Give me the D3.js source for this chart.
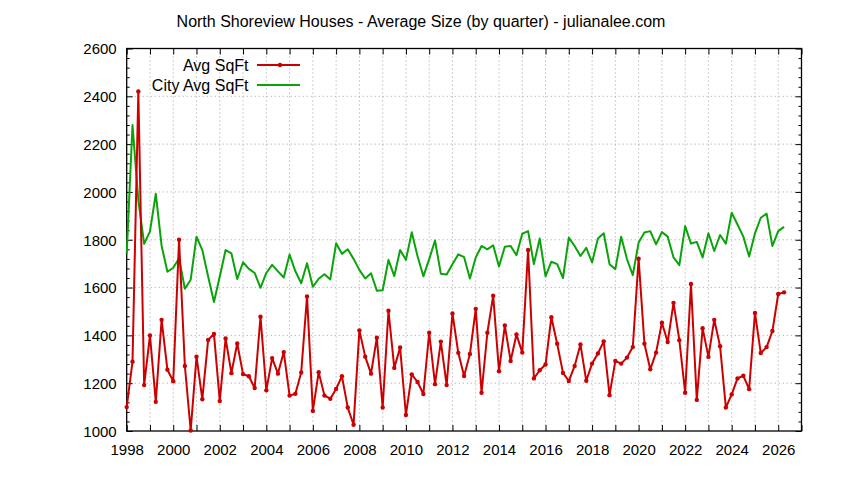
<!DOCTYPE html>
<html>
<head>
<meta charset="utf-8">
<script src="https://cdn.jsdelivr.net/npm/d3@7"></script>
<style>
  body { margin: 0; background: #fff; }
  svg { display: block; }
  text { font-family: "Liberation Sans", Arial, sans-serif; fill: #000; }
</style>
</head>
<body>
<svg id="chart" width="844" height="480"></svg>
<script>
// quarterly averages, first value is Q1 1998
var startYear = 1998;

var avgSqFt = [
    1100, 1290, 2420, 1192, 1400, 1122, 1465, 1256, 1208, 1800,
    1272, 1002, 1311, 1133, 1381, 1406, 1125, 1387, 1242, 1366,
    1238, 1229, 1180, 1478, 1170, 1305, 1240, 1330, 1148, 1156,
    1245, 1563, 1084, 1246, 1148, 1135, 1176, 1229, 1098, 1026,
    1421, 1311, 1240, 1390, 1098, 1503, 1264, 1349, 1067, 1237,
    1205, 1155, 1411, 1196, 1374, 1192, 1492, 1327, 1230, 1322,
    1511, 1160, 1411, 1566, 1250, 1441, 1293, 1404, 1328, 1757,
    1220, 1254, 1278, 1476, 1365, 1243, 1209, 1272, 1362, 1210,
    1282, 1324, 1375, 1150, 1293, 1282, 1307, 1351, 1721, 1365,
    1258, 1328, 1453, 1372, 1536, 1380, 1160, 1615, 1130, 1430,
    1310, 1465, 1355, 1098, 1153, 1220, 1231, 1175, 1494, 1326,
    1351, 1418, 1573, 1580
];

var cityAvgSqFt = [
    1740, 2280, 1965, 1783, 1835, 1992, 1775, 1666, 1683, 1722,
    1595, 1633, 1813, 1757, 1646, 1540, 1646, 1757, 1743, 1636,
    1706, 1678, 1661, 1599, 1661, 1695, 1668, 1642, 1738, 1668,
    1618, 1702, 1603, 1637, 1656, 1634, 1785, 1741, 1760, 1720,
    1674, 1638, 1660, 1587, 1589, 1716, 1648, 1757, 1716, 1831,
    1731, 1647, 1719, 1797, 1658, 1655, 1698, 1739, 1727, 1638,
    1726, 1774, 1760, 1777, 1688, 1771, 1774, 1735, 1825, 1836,
    1698, 1805, 1647, 1708, 1698, 1640, 1809, 1774, 1732, 1766,
    1705, 1805, 1827, 1698, 1677, 1813, 1719, 1652, 1788, 1830,
    1836, 1781, 1832, 1813, 1726, 1694, 1857, 1784, 1791, 1726,
    1827, 1753, 1820, 1784, 1913, 1864, 1813, 1730, 1827, 1892,
    1909, 1774, 1836, 1854
];

var xTickLabels = [1998, 2000, 2002, 2004, 2006, 2008, 2010, 2012, 2014, 2016, 2018, 2020, 2022, 2024, 2026];
var yTickLabels = [1000, 1200, 1400, 1600, 1800, 2000, 2200, 2400, 2600];

var titleText = 'North Shoreview Houses - Average Size (by quarter) - julianalee.com';
var seriesNames = ['Avg SqFt', 'City Avg SqFt'];
var redColor = '#cc0000';
var greenColor = '#0aa30a';

var svg = d3.select('#chart');
svg.append('rect').attr('width', 844).attr('height', 480).attr('fill', '#fff');

var plotLeft = 126.7, plotRight = 801.5, plotTop = 48.5, plotBottom = 431;

var x = d3.scaleLinear().domain([1998, 2027]).range([plotLeft, plotRight]);
var y = d3.scaleLinear().domain([1000, 2600]).range([plotBottom, plotTop]);

var quarters = avgSqFt.map(function (d, i) { return startYear + i / 4; });
var years = d3.range(1998, 2028);

// dotted grid, every year and every 200 sqft
var grid = svg.append('g').attr('stroke', '#a0a0a0').attr('stroke-width', 1).attr('stroke-dasharray', '1,3');
grid.selectAll('.vg').data(years.slice(1, -1)).enter().append('line')
    .attr('x1', d => x(d)).attr('x2', d => x(d)).attr('y1', plotTop).attr('y2', plotBottom);
grid.selectAll('.hg').data(yTickLabels.slice(1, -1)).enter().append('line')
    .attr('x1', plotLeft).attr('x2', plotRight).attr('y1', d => y(d)).attr('y2', d => y(d));

// axes, ticks pointing inwards like the original
var fmtYear = function (d) { return xTickLabels.includes(d) ? d : ''; };
var xb = svg.append('g').attr('transform', 'translate(0,' + plotBottom + ')')
    .call(d3.axisBottom(x).tickValues(years).tickSize(-6).tickPadding(13.5).tickFormat(fmtYear));
var xt = svg.append('g').attr('transform', 'translate(0,' + plotTop + ')')
    .call(d3.axisTop(x).tickValues(years).tickSize(-6).tickFormat(''));

var yMinor = d3.range(1000, 2601, 40).filter(d => !yTickLabels.includes(d));
var yl = svg.append('g').attr('transform', 'translate(' + plotLeft + ',0)')
    .call(d3.axisLeft(y).tickValues(yTickLabels).tickSize(-6).tickPadding(10).tickFormat(d3.format('d')));
var ylm = svg.append('g').attr('transform', 'translate(' + plotLeft + ',0)')
    .call(d3.axisLeft(y).tickValues(yMinor).tickSize(-3).tickFormat(''));
var yr = svg.append('g').attr('transform', 'translate(' + plotRight + ',0)')
    .call(d3.axisRight(y).tickValues(yTickLabels).tickSize(-6).tickFormat(''));
var yrm = svg.append('g').attr('transform', 'translate(' + plotRight + ',0)')
    .call(d3.axisRight(y).tickValues(yMinor).tickSize(-3).tickFormat(''));

[xb, xt, yl, ylm, yr, yrm].forEach(function (g) {
    g.select('.domain').remove();
    g.selectAll('line').attr('stroke', '#000').attr('stroke-width', 1);
    g.selectAll('text').style('font-family', '"Liberation Sans", Arial, sans-serif').style('font-size', '15px').attr('fill', '#000');
});
yl.selectAll('text').attr('dy', '0.36em');

svg.append('rect').attr('x', plotLeft).attr('y', plotTop).attr('width', plotRight - plotLeft).attr('height', plotBottom - plotTop)
    .attr('fill', 'none').attr('stroke', '#000').attr('stroke-width', 1.3);

// series
var line = d3.line().x(d => x(d[0])).y(d => y(d[1]));
var redData = quarters.map((q, i) => [q, avgSqFt[i]]);
var greenData = quarters.map((q, i) => [q, cityAvgSqFt[i]]);

svg.append('path').datum(greenData).attr('d', line)
    .attr('fill', 'none').attr('stroke', greenColor).attr('stroke-width', 2).attr('stroke-linejoin', 'round');
svg.append('path').datum(redData).attr('d', line)
    .attr('fill', 'none').attr('stroke', redColor).attr('stroke-width', 2).attr('stroke-linejoin', 'round');
svg.selectAll('.pt').data(redData).enter().append('circle')
    .attr('cx', d => x(d[0])).attr('cy', d => y(d[1])).attr('r', 2.2).attr('fill', redColor);

// legend
var legend = svg.append('g');
legend.append('text').attr('x', 248.5).attr('y', 70.7).attr('text-anchor', 'end').style('font-size', '16px').text(seriesNames[0]);
legend.append('text').attr('x', 248.5).attr('y', 90.7).attr('text-anchor', 'end').style('font-size', '16px').text(seriesNames[1]);
legend.append('line').attr('x1', 257).attr('x2', 300).attr('y1', 65).attr('y2', 65).attr('stroke', redColor).attr('stroke-width', 2);
legend.append('circle').attr('cx', 280).attr('cy', 65).attr('r', 2.2).attr('fill', redColor);
legend.append('line').attr('x1', 257).attr('x2', 300).attr('y1', 85).attr('y2', 85).attr('stroke', greenColor).attr('stroke-width', 2);

// title
svg.append('text').attr('x', 421).attr('y', 26.5).attr('text-anchor', 'middle').style('font-size', '16px').text(titleText);
</script>
</body>
</html>
